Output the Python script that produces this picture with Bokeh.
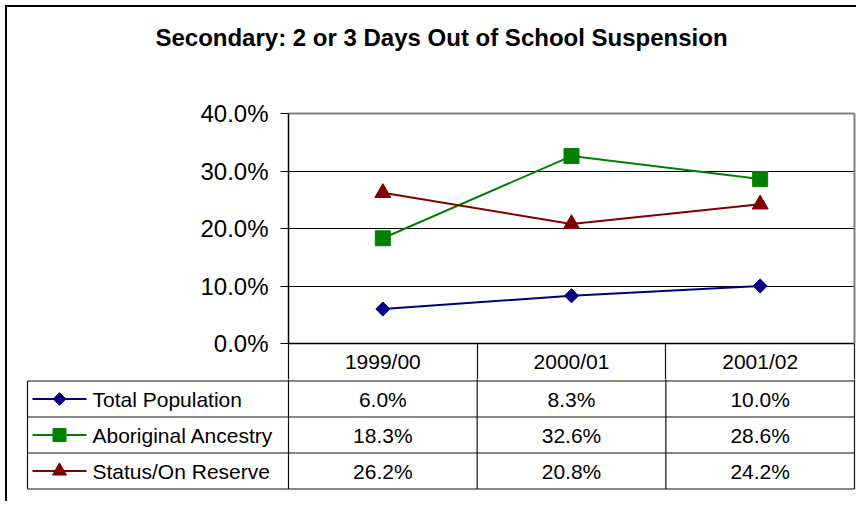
import numpy as np
from bokeh.plotting import figure
from bokeh.layouts import column
from bokeh.models import (Range1d, FactorRange, LinearAxis, FixedTicker,
                          NumeralTickFormatter, ColumnDataSource)
from bokeh.embed import file_html
from bokeh.resources import INLINE
from bokeh.core.properties import value

# ---------------- data ----------------
title_text = "Secondary: 2 or 3 Days Out of School Suspension"
categories = ["1999/00", "2000/01", "2001/02"]
series_names = ["Total Population", "Aboriginal Ancestry", "Status/On Reserve"]
total_population = [0.060, 0.083, 0.100]
aboriginal_ancestry = [0.183, 0.326, 0.286]
status_on_reserve = [0.262, 0.208, 0.242]
y_ticks = [0.0, 0.1, 0.2, 0.3, 0.4]

# ---------------- style ----------------
series = [total_population, aboriginal_ancestry, status_on_reserve]
colors = ["#000080", "#008000", "#800000"]
markers = ["square", "square", "triangle"]
angles = [np.pi / 4, 0.0, 0.0]
sizes = [10, 15, 16]
legend_sizes = [9, 13, 14]
FONT = "Liberation Sans"
RULE = "#111111"

W = 849
TH = 86          # title strip height
LEFT = 281
RIGHT = 2
TOP = 20
FRAME_H = 230
BOTTOM = 36      # header row of the data table lives in the bottom border
P1_H = TOP + FRAME_H + BOTTOM
P2_H = 122
FRAME_W = W - LEFT - RIGHT
COL_W = FRAME_W / len(categories)
ROW_H = 36.0
FIRST_RULE = 1.5  # px from top of table figure to first rule
LEGEND_W = 261
HEADER_LABEL_GAP = 6


def bare(fig):
    fig.outline_line_color = None
    fig.grid.grid_line_color = None
    fig.background_fill_color = "white"
    fig.border_fill_color = "white"
    fig.frame_align = False


# ---------------- title strip ----------------
pt = figure(width=W, height=TH, x_range=Range1d(0, W), y_range=Range1d(TH, 0),
            x_axis_location=None, y_axis_location=None,
            output_backend="svg", toolbar_location=None, tools="",
            min_border=0, min_border_left=0, min_border_right=0,
            min_border_top=0, min_border_bottom=0)
bare(pt)
pt.text(x=[434], y=[30], text=[title_text], text_font=value(FONT),
        text_font_size="24px", text_font_style="bold", text_color="black",
        text_align="center", text_baseline="middle")

# ---------------- chart ----------------
p1 = figure(width=W, height=P1_H,
            x_range=FactorRange(factors=categories, range_padding=0),
            y_range=Range1d(0, 0.4),
            x_axis_location=None, y_axis_location="left",
            output_backend="svg", toolbar_location=None, tools="",
            min_border_left=LEFT, min_border_right=RIGHT,
            min_border_top=TOP, min_border_bottom=BOTTOM)
p1.outline_line_color = None
p1.background_fill_color = "white"
p1.border_fill_color = "white"
p1.frame_align = False

ya = p1.yaxis[0]
ya.ticker = FixedTicker(ticks=y_ticks)
ya.formatter = NumeralTickFormatter(format="0.0%")
ya.major_label_text_font = FONT
ya.major_label_text_font_size = "24px"
ya.major_label_text_color = "black"
ya.major_tick_out = 8
ya.major_tick_in = 0
ya.minor_tick_out = 0
ya.minor_tick_in = 0
ya.major_tick_line_color = "black"
ya.axis_line_color = "black"
ya.axis_line_width = 1.5
ya.major_label_standoff = 12

p1.ygrid.ticker = FixedTicker(ticks=y_ticks)
p1.ygrid.grid_line_color = "black"
p1.ygrid.grid_line_width = 1
p1.xgrid.grid_line_color = None


def frame_axis(color, width):
    return LinearAxis(ticker=FixedTicker(ticks=[]), axis_line_color=color,
                      axis_line_width=width, major_tick_out=0, major_tick_in=0,
                      minor_tick_out=0, minor_tick_in=0,
                      major_label_text_font_size="0px", major_label_standoff=0)


p1.add_layout(frame_axis("#808080", 2), "right")
p1.add_layout(frame_axis("#808080", 2), "above")

# category header row: labels at category centres, cell borders as minor ticks
centres = [i + 0.5 for i in range(len(categories))]
bounds = [float(i) for i in range(len(categories) + 1)]
xa = LinearAxis(ticker=FixedTicker(ticks=centres, minor_ticks=bounds),
                major_label_overrides={c: lab for c, lab in zip(centres, categories)},
                axis_line_color="black", axis_line_width=1.5,
                major_tick_out=0, major_tick_in=0,
                minor_tick_out=BOTTOM, minor_tick_in=0,
                minor_tick_line_color=RULE, minor_tick_line_width=1.2,
                major_label_text_font=FONT, major_label_text_font_size="21px",
                major_label_text_color="black",
                major_label_standoff=HEADER_LABEL_GAP - BOTTOM)
p1.add_layout(xa, "below")

for vals, col, mk, ang, sz in zip(series, colors, markers, angles, sizes):
    src = ColumnDataSource(dict(x=categories, y=vals))
    p1.line("x", "y", source=src, line_color=col, line_width=2)
    p1.scatter("x", "y", source=src, marker=mk, angle=ang, size=sz,
               fill_color=col, line_color=col)

# ---------------- data table (series rows) ----------------
x_start = -LEFT / COL_W
x_end = (W - LEFT) / COL_W
r_top = 1 - FIRST_RULE / ROW_H
r_bot = 1 + (P2_H - FIRST_RULE) / ROW_H
p2 = figure(width=W, height=P2_H,
            x_range=Range1d(x_start, x_end), y_range=Range1d(r_bot, r_top),
            x_axis_location=None, y_axis_location=None,
            output_backend="svg", toolbar_location=None, tools="",
            min_border=0, min_border_left=0, min_border_right=0,
            min_border_top=0, min_border_bottom=0)
bare(p2)

n_rows = len(series) + 1
n_cols = len(categories)
leg_left = -LEGEND_W / COL_W

# horizontal rules
hy = list(range(1, n_rows + 1))
p2.segment(x0=[leg_left] * len(hy), y0=hy, x1=[n_cols] * len(hy), y1=hy,
           line_color=RULE, line_width=1.2)
# vertical rules
vx = [leg_left] + bounds
p2.segment(x0=vx, y0=[1] * len(vx), x1=vx, y1=[n_rows] * len(vx),
           line_color=RULE, line_width=1.2)
# continuation of the header-row borders into this figure's top sliver
p2.segment(x0=bounds, y0=[0] * len(bounds), x1=bounds, y1=[1] * len(bounds),
           line_color=RULE, line_width=1.2)

# values
tx, ty, tt = [], [], []
for s, vals in enumerate(series):
    for i, v in enumerate(vals):
        tx.append(i + 0.5)
        ty.append(s + 1.5)
        tt.append(f"{v * 100:.1f}%")
p2.text(x=tx, y=ty, text=tt, text_font=value(FONT), text_font_size="21px",
        text_color="black", text_align="center", text_baseline="middle")

# legend keys
for s, (name, col, mk, ang, sz) in enumerate(zip(series_names, colors, markers,
                                                 angles, legend_sizes)):
    yy = s + 1.5
    p2.line(x=[-256 / COL_W, -202 / COL_W], y=[yy, yy], line_color=col, line_width=2)
    p2.scatter(x=[-229 / COL_W], y=[yy], marker=mk, angle=ang, size=sz,
               fill_color=col, line_color=col)
    p2.text(x=[-196 / COL_W], y=[yy], text=[name], text_font=value(FONT),
            text_font_size="21px", text_color="black", text_align="left",
            text_baseline="middle")

layout = column(pt, p1, p2, spacing=0,
                styles={"border-left": "2px solid black",
                        "border-top": "2px solid black",
                        "margin-left": "5px", "margin-top": "5px"})

open("out.html", "w").write(file_html(layout, INLINE))
